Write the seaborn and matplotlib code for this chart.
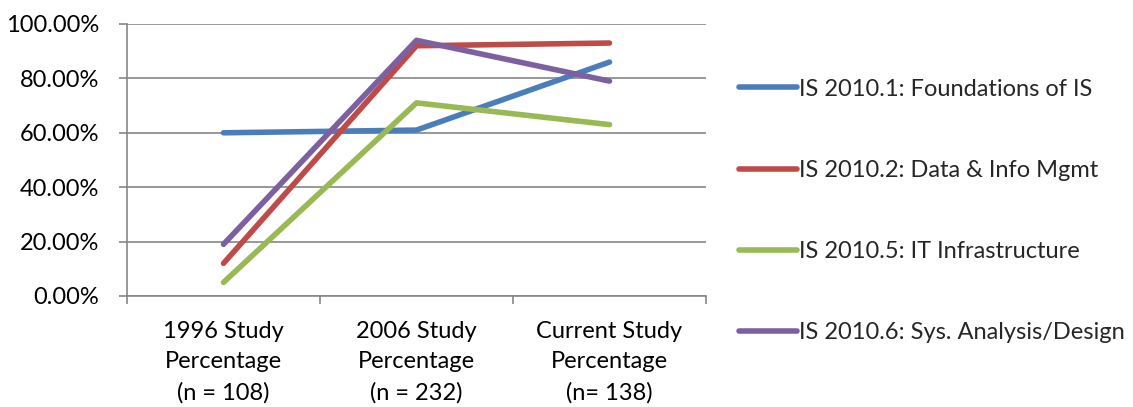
import matplotlib
matplotlib.use("Agg")
import matplotlib.pyplot as plt
from matplotlib.ticker import FixedLocator, PercentFormatter
import pandas as pd
import seaborn as sns

studies = ["1996 Study\nPercentage\n(n = 108)",
           "2006 Study\nPercentage\n(n = 232)",
           "Current Study\nPercentage\n(n= 138)"]
courses = ["IS 2010.1: Foundations of IS",
           "IS 2010.2: Data & Info Mgmt",
           "IS 2010.5: IT Infrastructure",
           "IS 2010.6: Sys. Analysis/Design"]
foundations = [0.60, 0.61, 0.86]
data_info = [0.12, 0.92, 0.93]
it_infra = [0.05, 0.71, 0.63]
sys_analysis = [0.19, 0.94, 0.79]
colors = ["#4A7EBB", "#BE4B48", "#98B954", "#7D60A0"]

series = [foundations, data_info, it_infra, sys_analysis]
rows = []
for course, vals in zip(courses, series):
    for i, v in enumerate(vals):
        rows.append({"study": i, "course": course, "pct": v})
df = pd.DataFrame(rows)

sns.set_theme(style="white")
plt.rcParams["font.family"] = ["Lato", "DejaVu Sans"]

FS = 17
fig = plt.figure(figsize=(11.33, 4.07), dpi=100)
ax = fig.add_axes([127 / 1133, 1 - 296 / 407, (706 - 127) / 1133, (296 - 24) / 407])

sns.lineplot(data=df, x="study", y="pct", hue="course", hue_order=courses,
             palette=colors, linewidth=4.0, ax=ax, legend=True,
             solid_capstyle="round")

grid_c = "#868686"
ax.set_xlim(-0.5, 2.5)
ax.set_ylim(0, 1)
ax.yaxis.set_major_locator(FixedLocator([0, 0.2, 0.4, 0.6, 0.8, 1.0]))
ax.yaxis.set_major_formatter(PercentFormatter(xmax=1, decimals=2))
ax.set_xticks([0, 1, 2])
ax.set_xticklabels(studies, linespacing=1.55)
ax.xaxis.set_minor_locator(FixedLocator([-0.5, 0.5, 1.5, 2.5]))
ax.tick_params(axis="x", which="major", length=0, pad=18, labelsize=FS, colors="black")
ax.tick_params(axis="x", which="minor", length=6, width=1.2, color=grid_c, direction="out", bottom=True)
ax.tick_params(axis="y", which="major", length=6, width=1.2, color=grid_c, direction="out",
               left=True, labelsize=FS, labelcolor="black", pad=14)
ax.set_xlabel("")
ax.set_ylabel("")
ax.grid(axis="y", color=grid_c, linewidth=1.2)
ax.grid(axis="x", visible=False)
for side in ["top", "right"]:
    ax.spines[side].set_visible(False)
for side in ["left", "bottom"]:
    ax.spines[side].set_color(grid_c)
    ax.spines[side].set_linewidth(1.2)
ax.set_axisbelow(True)

handles, labels = ax.get_legend_handles_labels()
ax.get_legend().remove()
fig.legend(handles, labels, loc="center left", bbox_to_anchor=(739 / 1133, 1 - 211 / 407),
           frameon=False, fontsize=FS, handlelength=2.45, handletextpad=0.1,
           labelspacing=2.55, borderaxespad=0, borderpad=0)

fig.savefig("out.png", dpi=100, facecolor="white")
